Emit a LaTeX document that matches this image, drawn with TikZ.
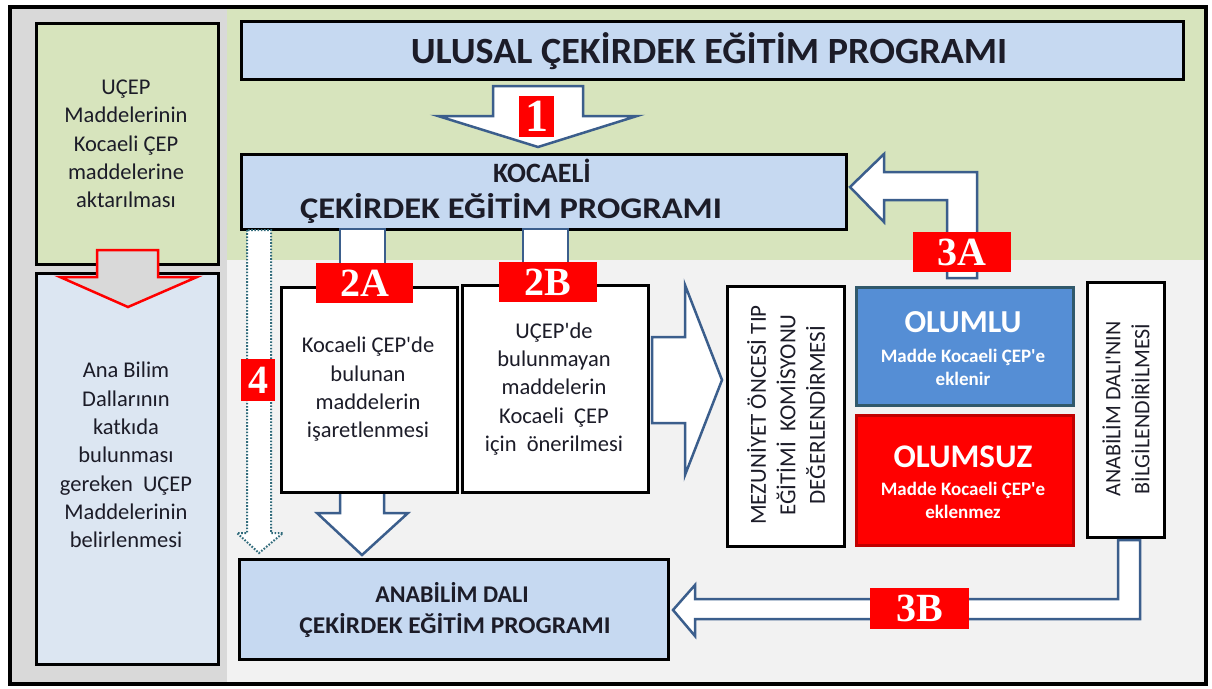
\documentclass[tikz,border=0pt]{standalone}
\usepackage{fontspec}
\usepackage{graphicx}
\setmainfont{Carlito}[Ligatures=TeXOff]
\newfontfamily\labfont{Liberation Serif}
\definecolor{greenbg}{HTML}{D7E4BD}
\definecolor{leftgray}{HTML}{D9D9D9}
\definecolor{rightgray}{HTML}{F2F2F2}
\definecolor{boxblue}{HTML}{C6D9F1}
\definecolor{paleblue}{HTML}{DCE6F2}
\definecolor{olublue}{HTML}{558ED5}
\definecolor{oluedge}{HTML}{31596B}
\definecolor{olsred}{HTML}{FF0000}
\definecolor{olsedge}{HTML}{C00000}
\definecolor{arrowblue}{HTML}{3B5E8C}
\definecolor{dotteal}{HTML}{2F6A7A}
\definecolor{txt}{HTML}{1C1C28}
\definecolor{labred}{HTML}{FF0000}
\begin{document}
\begin{tikzpicture}[x=1pt,y=-1pt,
  box/.style={draw=black, line width=3pt, anchor=north west, inner sep=0pt},
  lab/.style={fill=labred, text=white, inner sep=0pt, font=\labfont\bfseries\fontsize{40}{40}\selectfont},
  barrow/.style={draw=arrowblue, fill=white, line width=2.5pt, line join=miter},
  dotarrow/.style={draw=dotteal, fill=white, line width=2pt, dash pattern=on 1.6pt off 1.6pt},
  body/.style={text=txt, align=center, inner sep=0pt, font=\fontsize{22.5}{28.3}\selectfont},
  head/.style={text=txt, inner sep=0pt, anchor=base},
  wtxt/.style={text=white, inner sep=0pt, anchor=base}]
\useasboundingbox (0,0) rectangle (1212,688);
% backgrounds
\fill[white] (0,0) rectangle (1212,688);
\fill[leftgray] (10,6) rectangle (227,684);
\fill[greenbg] (227,6) rectangle (1206,260);
\fill[rightgray] (227,260) rectangle (1206,684);
\draw[line width=4pt] (10,6.5) rectangle (1206,684);

% left column
\node[box, fill=greenbg, minimum width=182pt, minimum height=241pt] (leftA) at (35,22) {};
\node[box, fill=paleblue, minimum width=182pt, minimum height=391pt] (leftB) at (35,272) {};
\node[body] (leftAtxt) at (126,144) {UÇEP\\Maddelerinin\\Kocaeli ÇEP\\maddelerine\\aktarılması};
\node[body] (leftBtxt) at (126,455) {Ana Bilim\\Dallarının\\katkıda\\bulunması\\gereken~~UÇEP\\Maddelerinin\\belirlenmesi};
\draw[draw=red, fill=leftgray, line width=2.5pt, line join=miter] (97,250) -- (158,250) -- (158,277) -- (197,277) -- (128,307) -- (60,277) -- (97,277) -- cycle;

% top boxes
\node[box, fill=boxblue, minimum width=942pt, minimum height=58pt] (ulusal) at (240,20) {};
\node[head, font=\bfseries\fontsize{37}{37}\selectfont] (ulusaltxt) at (709,63) {\scalebox{1.03}[1]{ULUSAL ÇEKİRDEK EĞİTİM PROGRAMI}};
\node[box, fill=boxblue, minimum width=605pt, minimum height=75pt] (kocaeli) at (240,153) {};
\node[head, font=\bfseries\fontsize{28}{28}\selectfont] (koc1) at (542,182) {KOCAELİ};
\node[head, font=\bfseries\fontsize{30}{30}\selectfont] (koc2) at (511,218) {\scalebox{1.15}[1]{ÇEKİRDEK EĞİTİM PROGRAMI}};

% arrow 1
\draw[barrow] (493,86) -- (583,86) -- (583,116) -- (637,116) -- (538,147) -- (438,116) -- (493,116) -- cycle;
\node[lab, minimum width=35pt, minimum height=41pt, font=\labfont\bfseries\fontsize{46}{46}\selectfont] (l1) at (536.5,116.5) {1};

% arrow 3A
\draw[barrow] (947,278) -- (947,200) -- (884,200) -- (884,222) -- (850,187) -- (884,154) -- (884,172) -- (977,172) -- (977,278) -- cycle;
\node[lab, minimum width=98pt, minimum height=40pt] (l3A) at (962,252) {3A};

% connectors 2A 2B
\draw[barrow] (340,229) rectangle (385,272);
\draw[barrow] (523,229) rectangle (568,272);

% arrow 4 (dotted)
\draw[dotarrow] (247,230) -- (247,533) -- (237,533) -- (259,553) -- (283,533) -- (271,533) -- (271,230) -- cycle;
\node[lab, minimum width=34pt, minimum height=42pt] (l4) at (258,380) {4};

% down arrow from 2A
\draw[barrow] (340,485) -- (340,513) -- (317,513) -- (362,555) -- (408,513) -- (384,513) -- (384,485) -- cycle;

% big right arrow
\draw[barrow] (652,337) -- (685,337) -- (685,285) -- (722,380) -- (685,475) -- (685,423) -- (652,423) -- cycle;

% boxes 2A 2B
\node[box, fill=white, minimum width=176pt, minimum height=205pt] (box2A) at (280,286) {};
\node[box, fill=white, minimum width=186pt, minimum height=207pt] (box2B) at (461,284) {};
\node[body] (t2A) at (368,389.5) {Kocaeli ÇEP'de\\bulunan\\maddelerin\\işaretlenmesi};
\node[body] (t2B) at (554,389) {UÇEP'de\\bulunmayan\\maddelerin\\Kocaeli~~ÇEP\\için~~önerilmesi};
\node[lab, minimum width=97pt, minimum height=40pt] (l2A) at (364.5,283) {2A};
\node[lab, minimum width=98pt, minimum height=40pt] (l2B) at (548,282) {2B};

% commission box
\node[box, fill=white, minimum width=117pt, minimum height=260pt] (mez) at (726,285) {};
\node[body, rotate=90, font=\fontsize{23}{29.5}\selectfont] (meztxt) at (786,415) {MEZUNİYET ÖNCESİ TIP\\EĞİTİMİ~~KOMİSYONU\\DEĞERLENDİRMESİ};

% olumlu / olumsuz
\node[box, fill=olublue, draw=oluedge, minimum width=217pt, minimum height=118pt] (olumlu) at (855,286) {};
\node[wtxt, font=\bfseries\fontsize{32}{32}\selectfont] (olu1) at (963,332) {OLUMLU};
\node[wtxt, font=\bfseries\fontsize{19}{19}\selectfont] (olu2) at (963,362) {Madde Kocaeli ÇEP'e};
\node[wtxt, font=\bfseries\fontsize{19}{19}\selectfont] (olu3) at (963,385) {eklenir};
\node[box, fill=olsred, draw=olsedge, minimum width=217pt, minimum height=130pt] (olumsuz) at (855,414) {};
\node[wtxt, font=\bfseries\fontsize{33}{33}\selectfont] (ols1) at (963,467) {OLUMSUZ};
\node[wtxt, font=\bfseries\fontsize{19}{19}\selectfont] (ols2) at (963,495) {Madde Kocaeli ÇEP'e};
\node[wtxt, font=\bfseries\fontsize{19}{19}\selectfont] (ols3) at (963,518) {eklenmez};

% anabilim dali bilgilendirilmesi
\node[box, fill=white, minimum width=77pt, minimum height=255pt] (adali) at (1086,281) {};
\node[body, rotate=90, font=\fontsize{22}{29}\selectfont] (adalitxt) at (1126,409) {ANABİLİM DALI'NIN\\BİLGİLENDİRİLMESİ};

% arrow 3B
\draw[barrow] (1118,540) -- (1140,540) -- (1140,619) -- (695,619) -- (695,636) -- (673,610) -- (695,585) -- (695,599) -- (1118,599) -- cycle;
\node[lab, minimum width=99pt, minimum height=41pt] (l3B) at (919.5,608.5) {3B};

% anabilim dali cep
\node[box, fill=boxblue, minimum width=429pt, minimum height=100pt] (anabilim) at (238,558) {};
\node[head, font=\bfseries\fontsize{24}{24}\selectfont] (an1) at (452,602) {ANABİLİM DALI};
\node[head, font=\bfseries\fontsize{24}{24}\selectfont] (an2) at (455,633) {\scalebox{1.06}[1]{ÇEKİRDEK EĞİTİM PROGRAMI}};
\end{tikzpicture}
\end{document}
